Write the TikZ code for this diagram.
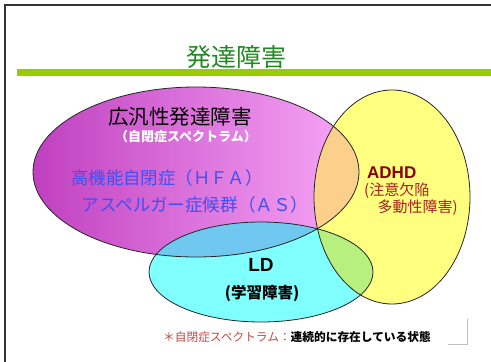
\documentclass[tikz,border=0pt]{standalone}
\usepackage{fontspec}
\setmainfont{Noto Sans CJK JP}
\newfontfamily\latinfont{Liberation Sans}
\definecolor{titlegreen}{HTML}{1F8A1F}
\definecolor{barcol}{HTML}{99CC00}
\definecolor{magdark}{HTML}{C040C0}
\definecolor{maglight}{HTML}{F8A8F8}
\definecolor{yellowc}{HTML}{FFFF80}
\definecolor{cyanc}{HTML}{80FFFF}
\definecolor{magyel}{HTML}{FCD08A}
\definecolor{magcyan}{HTML}{70C8F0}
\definecolor{yelcyan}{HTML}{B8F080}
\definecolor{triple}{HTML}{C8E488}
\definecolor{bluetext}{HTML}{4050F0}
\definecolor{adhdred}{HTML}{8A0000}
\definecolor{adhdsub}{HTML}{A82020}
\definecolor{noteRed}{HTML}{C04848}
\tikzset{
  lbl/.style={inner sep=0pt, anchor=center},
  ring/.style={draw=black!85, line width=0.8pt},
}
\def\magE{(196,172) ellipse [x radius=163, y radius=85]}
\def\yelE{(392,197) ellipse [x radius=78, y radius=107]}
\def\cyaE{(261,272) ellipse [x radius=112, y radius=50]}
\begin{document}
\begin{tikzpicture}[x=1pt,y=-1pt]
\useasboundingbox (0,0) rectangle (491,362);
\fill[white] (0,0) rectangle (491,362);
% frame
\draw[black!80, line width=2pt] (5,362) -- (5,5) -- (491,5);
% title
\node[lbl, text=titlegreen, font=\fontsize{25}{27}\selectfont] (title) at (236,57) {発達障害};
\fill[barcol] (17,69) rectangle (491,76);
% regions
\fill[yellowc] \yelE;
\shade[left color=magdark, right color=maglight] \magE;
\begin{scope}
  \clip \magE;
  \fill[magyel] \yelE;
\end{scope}
\fill[cyanc] \cyaE;
\begin{scope}
  \clip \magE;
  \fill[magcyan] \cyaE;
\end{scope}
\begin{scope}
  \clip \yelE;
  \fill[yelcyan] \cyaE;
\end{scope}
\begin{scope}
  \clip \magE;
  \clip \yelE;
  \fill[triple] \cyaE;
\end{scope}
% outlines
\draw[ring] \magE;
\draw[ring] \yelE;
\draw[ring] \cyaE;
% texts
\node[lbl, font=\fontsize{20.5}{22}\selectfont] (pdd) at (180,117) {広汎性発達障害};
\node[lbl, text=white, font=\bfseries\fontsize{13}{14}\selectfont] (asd) at (186,137) {（自閉症スペクトラム）};
\node[lbl, text=bluetext, font=\fontsize{17.4}{19}\selectfont] (hfa) at (167,178) {高機能自閉症（ＨＦＡ）};
\node[lbl, text=bluetext, font=\fontsize{17.6}{19}\selectfont] (as) at (195,205) {アスペルガー症候群（ＡＳ）};
\node[lbl, anchor=west, text=adhdred, font=\latinfont\bfseries\fontsize{17}{18}\selectfont] (adhd) at (367,173) {ADHD};
\node[lbl, anchor=west, text=adhdsub, font=\fontsize{15}{16}\selectfont] (adhd1) at (364,191) {(注意欠陥};
\node[lbl, anchor=east, text=adhdsub, font=\fontsize{15}{16}\selectfont] (adhd2) at (458,208) {多動性障害)};
\node[lbl, font=\latinfont\bfseries\fontsize{19}{20}\selectfont] (ld) at (261,265) {LD};
\node[lbl, font=\bfseries\fontsize{15.5}{16}\selectfont] (ld2) at (262,293) {(学習障害)};
\node[lbl, anchor=west, font=\fontsize{11.7}{13}\selectfont] (note) at (163,337) {\textcolor{noteRed}{＊自閉症スペクトラム：}\textbf{連続的に存在している状態}};
% corner mark
\draw[black!25, line width=0.8pt] (448,344) -- (467,344) -- (467,319);
\end{tikzpicture}
\end{document}
